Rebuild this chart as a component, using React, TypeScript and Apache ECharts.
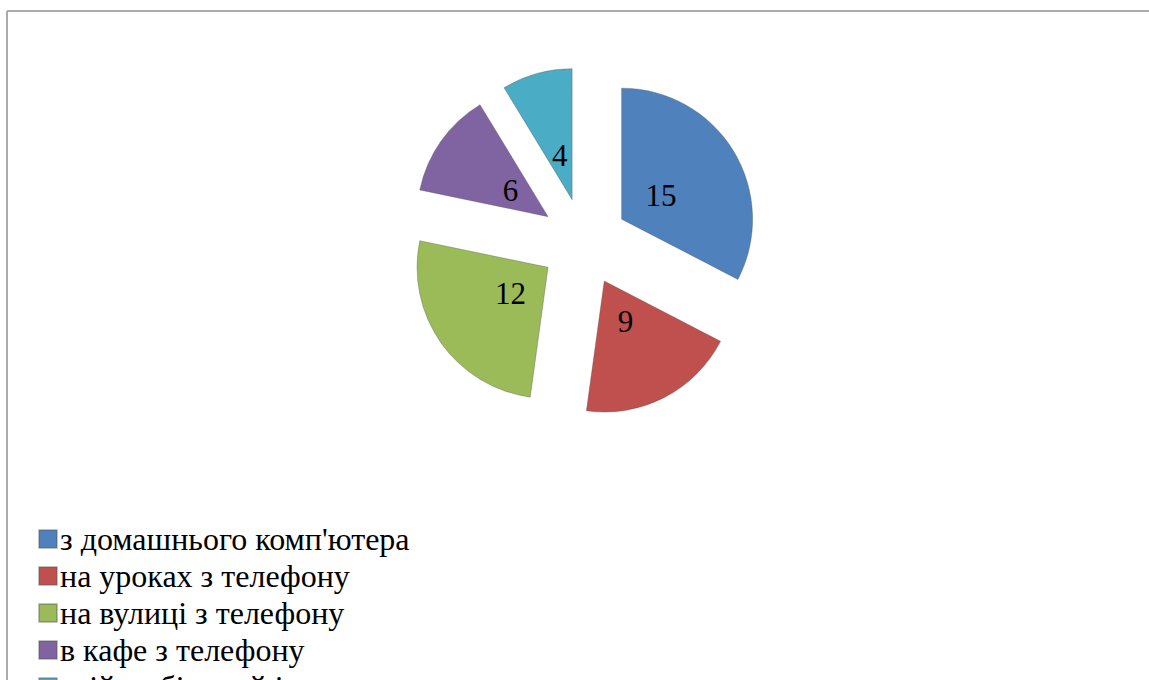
import React, { useEffect, useRef } from "react";
import * as echarts from "echarts";

const categories = [
  "з домашнього комп'ютера",
  "на уроках з телефону",
  "на вулиці з телефону",
  "в кафе з телефону",
  "свій мобільний інтернет",
];
const values = [15, 9, 12, 6, 4];
const colors = ["#4F81BD", "#C0504D", "#9BBB59", "#8064A2", "#4BACC6"];

const SERIF = "Liberation Serif";

export default function App() {
  const ref = useRef<HTMLDivElement>(null);
  useEffect(() => {
    document.body.style.margin = "0";
    const chart = echarts.init(ref.current!, null, { renderer: "svg" });
    const center = [584, 242];
    chart.setOption({
      animation: false,
      backgroundColor: "#ffffff",
      textStyle: { fontFamily: SERIF },
      legend: {
        orient: "vertical",
        left: 33,
        top: 518,
        height: 400,
        itemWidth: 18,
        itemHeight: 18,
        itemGap: 5,
        icon: "rect",
        data: categories,
        selectedMode: false,
        textStyle: {
          fontFamily: SERIF,
          fontSize: 32,
          lineHeight: 32,
          color: "#000",
          padding: [0, 0, 0, -2],
        },
      },
      graphic: [
        {
          type: "line",
          shape: { x1: 7, y1: 11, x2: 1149, y2: 11 },
          style: { stroke: "#ababab", lineWidth: 2 },
        },
        {
          type: "line",
          shape: { x1: 7, y1: 11, x2: 7, y2: 680 },
          style: { stroke: "#ababab", lineWidth: 2 },
        },
      ],
      series: [
        {
          type: "pie",
          center,
          radius: 131,
          startAngle: 90,
          clockwise: true,
          selectedMode: "multiple",
          selectedOffset: 44,
          avoidLabelOverlap: false,
          label: { show: false },
          labelLine: { show: false },
          emphasis: { disabled: true },
          select: {
            itemStyle: { borderColor: "rgba(80,80,80,0.35)", borderWidth: 1 },
          },
          itemStyle: { borderColor: "rgba(80,80,80,0.35)", borderWidth: 1 },
          data: categories.map((n, i) => ({
            name: n,
            value: values[i],
            selected: true,
            itemStyle: { color: colors[i] },
          })),
        },
        {
          type: "pie",
          center,
          radius: 174,
          startAngle: 90,
          clockwise: true,
          silent: true,
          selectedMode: false,
          avoidLabelOverlap: false,
          emphasis: { disabled: true },
          itemStyle: { color: "rgba(0,0,0,0)", borderWidth: 0 },
          label: {
            show: true,
            position: "inside",
            formatter: "{c}",
            fontFamily: SERIF,
            fontSize: 31,
            color: "#000",
          },
          labelLine: { show: false },
          data: categories.map((n, i) => ({ name: n, value: values[i] })),
        },
      ],
    });
    return () => chart.dispose();
  }, []);
  return <div ref={ref} style={{ width: 1149, height: 680 }} />;
}
